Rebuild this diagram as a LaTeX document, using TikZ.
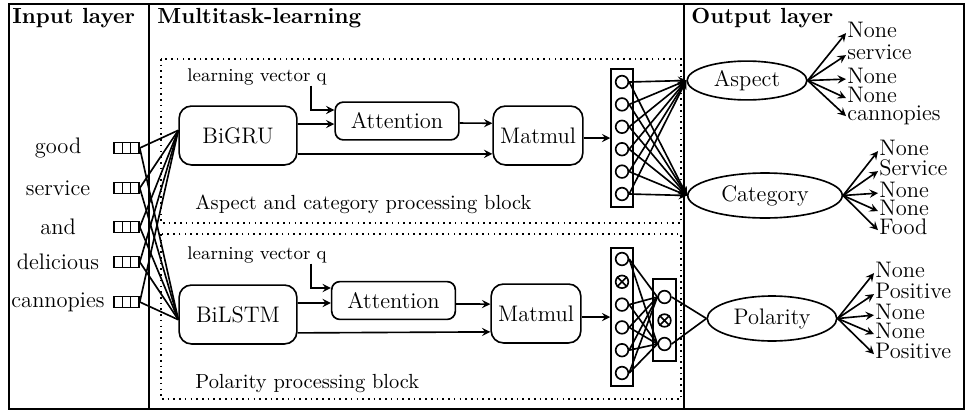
\documentclass[tikz,border=0pt]{standalone}
\usepackage{amsmath}
\usetikzlibrary{shapes,arrows,positioning,calc}

\begin{document}
\begin{tikzpicture}[
    x=0.0172cm, y=-0.0172cm,
    block/.style={draw, thick, rectangle, rounded corners=6pt, minimum width=57.6pt, minimum height=28.8pt, inner sep=1pt, font=\fontsize{11}{13}\selectfont},
    attn/.style={block, rounded corners=4pt, minimum width=60.5pt, minimum height=18.5pt},
    matmul/.style={block, minimum width=43.9pt},
    outnode/.style={draw, thick, ellipse, inner sep=0pt, minimum height=19pt, font=\fontsize{11}{13}\selectfont},
    cell/.style={draw, thick, rectangle, minimum width=4.07pt, minimum height=5.4pt, inner sep=0pt},
    vecbox/.style={draw, thick, rectangle, minimum width=10.7pt, inner sep=0pt},
    neuron/.style={draw, thick, circle, minimum size=6.2pt, inner sep=0pt},
    edge/.style={-stealth, thick},
    wire/.style={thick},
    word/.style={font=\fontsize{11}{13}\selectfont},
    lbl/.style={anchor=west, inner sep=0.5pt, text height=1.5ex, text depth=0.25ex, font=\fontsize{11}{13}\selectfont},
    title/.style={anchor=west, inner sep=0pt, font=\fontsize{10.7}{12}\selectfont\bfseries},
    caption/.style={anchor=west, inner sep=0pt, font=\fontsize{10}{12}\selectfont},
    qlabel/.style={anchor=west, inner sep=0pt, font=\small},
]

\useasboundingbox (0,0) rectangle (965,414);

% Frame
\draw[thick] (9,4) rectangle (964,409);
\draw[thick] (149,4) -- (149,409);
\draw[thick] (684,4) -- (684,409);

\node[title] (tin) at (12,18) {Input layer};
\node[title] (tmt) at (157,18) {Multitask-learning};
\node[title] (tout) at (691,18) {Output layer};

% Input words
\foreach \w/\y [count=\i] in {good/148, service/188, and/227, delicious/262, cannopies/302} {
  \node[word] (w\i) at (58,\y) {\w};
  \foreach \c/\x in {1/118.2, 2/126.5, 3/134.8}
    \node[cell] (e\i\c) at (\x,\y) {};
}

% Aspect and category block
\draw[dotted, thick] (161,59) rectangle (681,223);
\node[block] (bigru) at (238,135.5) {BiGRU};
\node[attn] (att1) at (397,121) {Attention};
\node[matmul] (mat1) at (538,135.5) {Matmul};
\node[qlabel] (q1) at (187,77) {learning vector q};
\node[caption] (cap1) at (195,204) {Aspect and category processing block};

\draw[edge] ([xshift=-8pt]q1.south east) |- ([yshift=5.4pt]att1.west);
\draw[edge] ([yshift=5.6pt]bigru.east) -- ([yshift=-1.5pt]att1.west);
\draw[edge] ([yshift=-1pt]att1.east) -- ([yshift=6pt]mat1.west);
\draw[edge] ([yshift=-9pt]bigru.east) -- ([yshift=-9pt]mat1.west);

\node[vecbox, minimum height=67.3pt] (vec1) at (622,138) {};
\foreach \y [count=\k] in {82,104.4,126.8,149.2,171.6,194}
  \node[neuron] (a\k) at (622,\y) {};
\draw[edge] (mat1.east |- vec1.west) -- (vec1.west);

% Polarity block
\draw[dotted, thick] (161,234) rectangle (681,399);
\node[block] (bilstm) at (238,314.5) {BiLSTM};
\node[attn] (att2) at (393.5,300.5) {Attention};
\node[matmul] (mat2) at (536,313.5) {Matmul};
\node[qlabel] (q2) at (187,255) {learning vector q};
\node[caption] (cap2) at (195,384) {Polarity processing block};

\draw[edge] ([xshift=-8pt]q2.south east) |- ([yshift=6.1pt]att2.west);
\draw[edge] ([yshift=5.6pt]bilstm.east) -- ([yshift=-1.2pt]att2.west);
\draw[edge] ([yshift=-1.7pt]att2.east) -- ([yshift=4.6pt]mat2.west);
\draw[edge] ([yshift=-9pt]bilstm.east) -- ([yshift=-9pt]mat2.west);

\node[vecbox, minimum height=67.3pt] (vec2) at (622,317) {};
\foreach \y [count=\k] in {259,281.8,304.6,327.4,350.2,373}
  \node[neuron] (p\k) at (622,\y) {};
\draw[thick] (p2.north west) -- (p2.south east) (p2.north east) -- (p2.south west);
\draw[edge] (mat2.east |- vec2.west) -- (vec2.west);

\node[vecbox, minimum width=11.2pt, minimum height=40pt] (vec3) at (664.5,320) {};
\node[neuron] (r1) at (664.5,297) {};
\node[neuron] (r2) at (664.5,320.5) {};
\node[neuron] (r3) at (664.5,344) {};
\draw[thick] (r2.north west) -- (r2.south east) (r2.north east) -- (r2.south west);

% Input wiring
\foreach \i in {1,...,5} {
  \draw[wire] (e\i3.east) -- (bigru.175);
  \draw[wire] (e\i3.east) -- (bilstm.185);
}

% Output layer
\node[outnode, minimum width=58.6pt] (aspect) at (747,80.5) {Aspect};
\node[outnode, minimum width=75.6pt, minimum height=22pt] (category) at (765,195.5) {Category};
\node[outnode, minimum width=63.4pt, minimum height=22pt] (polarity) at (772,318.5) {Polarity};

\foreach \k in {1,...,6} {
  \draw[edge] (a\k.east) -- (aspect.west);
  \draw[edge] (a\k.east) -- (category.west);
}
\foreach \k in {1,3,4,5,6} {
  \draw[wire] (p\k.east) -- (r1.west);
  \draw[wire] (p\k.east) -- (r3.west);
}
\draw[wire] (r1.east) -- (polarity.west);
\draw[wire] (r3.east) -- (polarity.west);

\foreach \t/\y [count=\k] in {None/32, service/54, None/78, None/97, cannopies/115} {
  \node[lbl] (oa\k) at (846,\y) {\t};
  \draw[edge] (aspect.east) -- (oa\k.mid west);
}
\foreach \t/\y [count=\k] in {None/150, Service/170, None/192, None/210, Food/229} {
  \node[lbl] (oc\k) at (878,\y) {\t};
  \draw[edge] (category.east) -- (oc\k.mid west);
}
\foreach \t/\y [count=\k] in {None/272, Positive/293, None/314, None/333, Positive/353} {
  \node[lbl] (op\k) at (874,\y) {\t};
  \draw[edge] (polarity.east) -- (op\k.mid west);
}

\end{tikzpicture}
\end{document}
